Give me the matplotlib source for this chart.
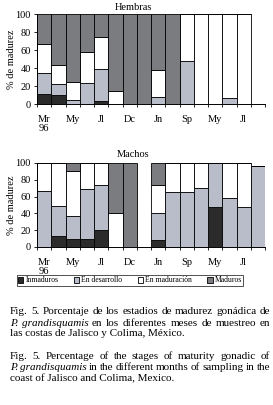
import numpy as np
import matplotlib
matplotlib.use("Agg")
import matplotlib.pyplot as plt
from matplotlib.patches import Patch

plt.rcParams['font.family'] = ['Liberation Serif', 'DejaVu Serif']

# etiquetas de los meses de muestreo (una cada dos barras)
meses = ["Mr\n96", "", "My", "", "Jl", "", "Dc", "", "Jn", "", "Sp", "", "My", "", "Jl", ""]
estadios = ["Inmaduros", "En desarrollo", "En maduración", "Maduros"]
colores = ["#2b2b2b", "#b9bdc9", "#ffffff", "#7a7c80"]

# Hembras (% por estadio)
h_inm = [11, 10, 0, 0, 3, 0, 0, 0, 0, 0, 0, 0, 0, 0, 0, 0]
h_des = [23, 12, 5, 23, 36, 0, 0, 0, 8, 0, 48, 0, 0, 7, 0, 0]
h_mad = [33, 21, 20, 35, 36, 14, 0, 0, 30, 0, 52, 100, 100, 93, 100, 0]
h_madur = [33, 57, 75, 42, 25, 86, 100, 100, 62, 100, 0, 0, 0, 0, 0, 0]

# Machos (% por estadio)
m_inm = [0, 13, 10, 10, 20, 0, 0, 0, 8, 0, 0, 0, 48, 0, 0, 0]
m_des = [67, 36, 27, 59, 54, 0, 0, 0, 33, 66, 66, 70, 52, 58, 48, 97]
m_mad = [33, 51, 53, 31, 26, 40, 0, 0, 33, 34, 34, 30, 0, 42, 52, 0]
m_madur = [0, 0, 10, 0, 0, 60, 100, 0, 26, 0, 0, 0, 0, 0, 0, 0]

W, H = 273, 405
fig = plt.figure(figsize=(W / 100, H / 100), dpi=100)


def ax_box(left, right, top, bottom):
    return [left / W, 1 - bottom / H, (right - left) / W, (bottom - top) / H]


def panel(ax, series, title, title_y):
    x = np.arange(len(meses))
    base = np.zeros(len(meses))
    for vals, c in zip(series, colores):
        vals = np.array(vals, dtype=float)
        ax.bar(x, vals, bottom=base, width=1.0, color=c, edgecolor='black', linewidth=0.6)
        base += vals
    ax.set_xlim(-0.5, len(meses) - 0.5)
    ax.set_ylim(0, 100)
    ax.set_yticks([0, 20, 40, 60, 80, 100])
    ax.set_xticks(x)
    ax.set_xticklabels(meses, fontsize=7.5, linespacing=1.0)
    ax.set_xticks(np.arange(-0.5, len(meses), 1), minor=True)
    ax.tick_params(axis='x', which='major', length=0, pad=8)
    ax.tick_params(axis='x', which='minor', length=2.5, width=0.6)
    ax.tick_params(axis='y', length=2.5, width=0.6, labelsize=7.5, pad=2)
    for lbl in ax.get_xticklabels():
        lbl.set_va('top')
    ax.spines['top'].set_visible(False)
    ax.spines['right'].set_visible(False)
    ax.spines['left'].set_linewidth(0.7)
    ax.spines['bottom'].set_linewidth(0.7)
    ax.set_ylabel("% de madurez", fontsize=7.5)
    ax.yaxis.set_label_coords(-0.09, 0.5)
    fig.text(133 / W, 1 - title_y / H, title, fontsize=7.5, ha='center', va='center')


ax1 = fig.add_axes(ax_box(37, 265, 14, 104))
panel(ax1, [h_inm, h_des, h_mad, h_madur], "Hembras", 7)

ax2 = fig.add_axes(ax_box(37, 265, 163, 247))
panel(ax2, [m_inm, m_des, m_mad, m_madur], "Machos", 155)

handles = [Patch(facecolor=c, edgecolor='black', linewidth=0.6) for c in colores]
leg = fig.legend(handles, estadios, loc='center', bbox_to_anchor=(130 / W, 1 - 280.5 / H),
                 ncol=4, fontsize=5.5, frameon=True, fancybox=False, borderpad=0.15,
                 handlelength=0.7, handleheight=0.7, handletextpad=0.3, columnspacing=2.0,
                 borderaxespad=0)
leg.get_frame().set_edgecolor('black')
leg.get_frame().set_linewidth(0.6)

# pie de figura justificado
italic = {'style': 'italic'}
normal = {}
lineas = [
    ([("Fig.", normal), ("5.", normal), ("Porcentaje", normal), ("de", normal), ("los", normal),
      ("estadios", normal), ("de", normal), ("madurez", normal), ("gonádica", normal), ("de", normal)], 312, True),
    ([("P.", italic), ("grandisquamis", italic), ("en", normal), ("los", normal), ("diferentes", normal),
      ("meses", normal), ("de", normal), ("muestreo", normal), ("en", normal)], 323, True),
    ([("las costas de Jalisco y Colima, México.", normal)], 334, False),
    ([("Fig.", normal), ("5.", normal), ("Percentage", normal), ("of", normal), ("the", normal),
      ("stages", normal), ("of", normal), ("maturity", normal), ("gonadic", normal), ("of", normal)], 356.5, True),
    ([("P.", italic), ("grandisquamis", italic), ("in", normal), ("the", normal), ("different", normal),
      ("months", normal), ("of", normal), ("sampling", normal), ("in", normal), ("the", normal)], 367.5, True),
    ([("coast of Jalisco and Colima, Mexico.", normal)], 378.5, False),
]

renderer = fig.canvas.get_renderer()
x0, x1 = 10, 270
for words, ypx, just in lineas:
    texts = [fig.text(x0 / W, 1 - ypx / H, w, fontsize=8, va='center', ha='left', **st) for w, st in words]
    widths = [t.get_window_extent(renderer).width for t in texts]
    if just and len(texts) > 1:
        gap = (x1 - x0 - sum(widths)) / (len(texts) - 1)
    else:
        gap = 0
    xp = x0
    for t, wd in zip(texts, widths):
        t.set_x(xp / W)
        xp += wd + gap

fig.savefig("out.png", dpi=100)
